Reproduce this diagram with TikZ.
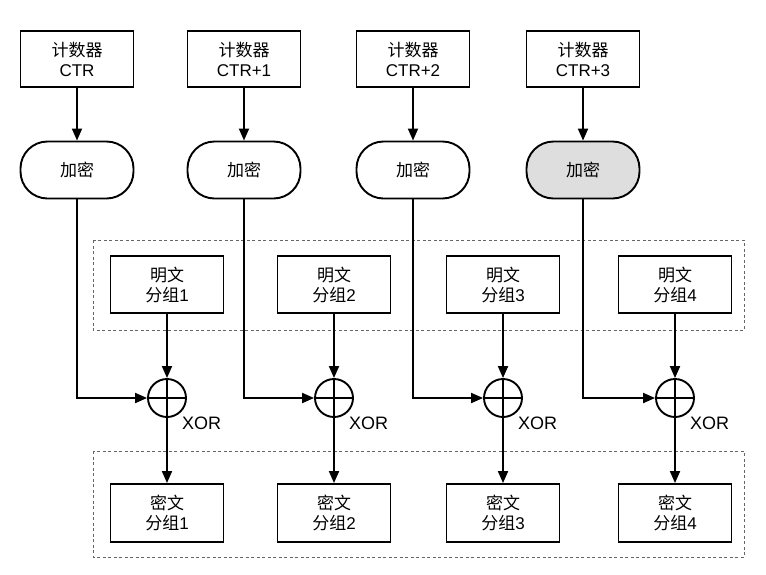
\documentclass[tikz,border=0pt]{standalone}
\usepackage{fontspec}
\setmainfont{Liberation Sans}
\newfontfamily\cjk{Noto Sans CJK SC}
\usetikzlibrary{arrows.meta,calc}
\tikzset{
  every node/.style={font=\fontsize{17}{20}\selectfont},
  blk/.style={draw, line width=1.9pt, minimum width=113pt, minimum height=56pt, align=center, inner sep=0pt},
  encbox/.style={draw, line width=1.9pt, minimum width=113pt, minimum height=57pt, rounded corners=27pt, inner sep=0pt},
  xorc/.style={draw, circle, line width=1.9pt, minimum size=38pt, inner sep=0pt,
    path picture={\draw[line width=1.9pt] (path picture bounding box.north) -- (path picture bounding box.south)
      (path picture bounding box.west) -- (path picture bounding box.east);}},
  arr/.style={line width=1.9pt, -{Triangle[length=12pt,width=10pt]}},
  dashbox/.style={draw=black!60, line width=0.8pt, dash pattern=on 3pt off 2.5pt},
  xorlab/.style={anchor=west, inner sep=0pt, font=\fontsize{18}{20}\selectfont}
}
\begin{document}
\begin{tikzpicture}[x=1pt,y=-1pt]
\useasboundingbox (0,0) rectangle (766,574);
% dashed groups
\draw[dashbox] (93,240) rectangle (744,330);
\draw[dashbox] (93,451) rectangle (744,557);
% columns
\foreach \i/\cx/\lab in {1/77/CTR, 2/244/CTR+1, 3/413/CTR+2, 4/583/CTR+3}{
  \node[blk] (c\i) at (\cx,59) {{\cjk 计数器}\\\lab};
}
\node[encbox] (e1) at (77,170) {\cjk 加密};
\node[encbox] (e2) at (244,170) {\cjk 加密};
\node[encbox] (e3) at (413,170) {\cjk 加密};
\node[encbox, fill=black!13] (e4) at (583,170) {\cjk 加密};
\foreach \i/\px in {1/167, 2/334, 3/503, 4/675}{
  \node[blk, minimum height=57pt] (p\i) at (\px,284.5) {{\cjk 明文}\\{\cjk 分组}\i};
  \node[xorc] (x\i) at (\px,398) {};
  \node[xorlab] (l\i) at ($(x\i.center)+(15,25)$) {XOR};
  \node[blk, minimum height=58pt] (k\i) at (\px,513) {{\cjk 密文}\\{\cjk 分组}\i};
  \draw[arr] (c\i) -- (e\i);
  \draw[arr] (e\i.south) |- (x\i.west);
  \draw[arr] (p\i) -- (x\i);
  \draw[arr] (x\i) -- (k\i);
}
\end{tikzpicture}
\end{document}
